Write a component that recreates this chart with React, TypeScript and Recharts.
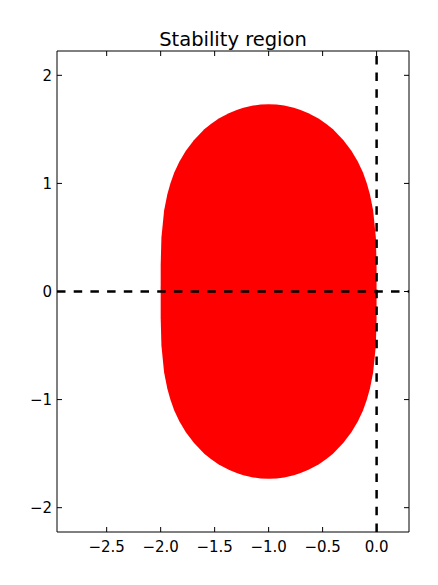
import { ComposedChart, Area, XAxis, YAxis, ReferenceLine } from 'recharts';

// boundary of the red region
const regionX = [
  -2.0, -1.9995, -1.993, -1.968, -1.938, -1.91, -1.874, -1.827, -1.768, -1.693,
  -1.596, -1.535, -1.462, -1.369, -1.296, -1.234, -1.144, -1.073, -1.0, -0.927,
  -0.856, -0.766, -0.704, -0.631, -0.538, -0.465, -0.404, -0.307, -0.232, -0.173,
  -0.126, -0.09, -0.062, -0.032, -0.007, -0.0005, 0.0,
];
const regionUpper = [
  0, 0.25, 0.5, 0.75, 0.9, 1.0, 1.1, 1.2, 1.3, 1.4,
  1.5, 1.55, 1.6, 1.65, 1.68, 1.7, 1.72, 1.729, 1.732, 1.729,
  1.72, 1.7, 1.68, 1.65, 1.6, 1.55, 1.5, 1.4, 1.3, 1.2,
  1.1, 1.0, 0.9, 0.75, 0.5, 0.25, 0,
];
const regionLower = [
  0, -0.25, -0.5, -0.75, -0.9, -1.0, -1.1, -1.2, -1.3, -1.4,
  -1.5, -1.55, -1.6, -1.65, -1.68, -1.7, -1.72, -1.729, -1.732, -1.729,
  -1.72, -1.7, -1.68, -1.65, -1.6, -1.55, -1.5, -1.4, -1.3, -1.2,
  -1.1, -1.0, -0.9, -0.75, -0.5, -0.25, 0,
];

const xTicks = [-2.5, -2.0, -1.5, -1.0, -0.5, 0.0];
const yTicks = [-2, -1, 0, 1, 2];
const xDomain = [-2.96, 0.3];
const yDomain = [-2.225, 2.225];

const data = regionX.map((x, i) => ({ x, band: [regionLower[i], regionUpper[i]] }));

const FONT = '"DejaVu Sans", sans-serif';
const TICK_LEN = 5;
const fmt = (v: number, digits: number) => v.toFixed(digits).replace('-', '\u2212');

const BottomTick = ({ x, y, payload }: any) => (
  <g>
    <line x1={x} y1={y} x2={x} y2={y - TICK_LEN} stroke="#000" />
    <text x={x} y={y + 20} textAnchor="middle" fontSize={15} fontFamily={FONT} fill="#000">
      {fmt(payload.value, 1)}
    </text>
  </g>
);

const LeftTick = ({ x, y, payload }: any) => (
  <g>
    <line x1={x} y1={y} x2={x + TICK_LEN} y2={y} stroke="#000" />
    <text x={x - 5} y={y + 5.5} textAnchor="end" fontSize={15} fontFamily={FONT} fill="#000">
      {fmt(payload.value, 0)}
    </text>
  </g>
);

const TopTick = ({ x, y }: any) => (
  <line x1={x} y1={y} x2={x} y2={y + TICK_LEN} stroke="#000" />
);

const RightTick = ({ x, y }: any) => (
  <line x1={x} y1={y} x2={x - TICK_LEN} y2={y} stroke="#000" />
);

export default function App() {
  return (
    <div style={{ position: 'absolute', left: 0, top: 0, width: 438, height: 585, background: '#fff' }}>
      <svg width={438} height={60} style={{ position: 'absolute', left: 0, top: 0 }}>
        <text x={233} y={45.7} textAnchor="middle" fontSize={19.5} fontFamily={FONT} fill="#000">
          Stability region
        </text>
      </svg>
      <ComposedChart
        width={438}
        height={585}
        data={data}
        margin={{ top: 41, right: 19, bottom: 0, left: 0 }}
      >
        <XAxis
          dataKey="x"
          type="number"
          domain={xDomain}
          ticks={xTicks}
          allowDataOverflow
          height={53}
          tickSize={0}
          tickMargin={0}
          tickLine={false}
          axisLine={{ stroke: '#000' }}
          tick={<BottomTick />}
        />
        <XAxis
          xAxisId="top"
          orientation="top"
          dataKey="x"
          type="number"
          domain={xDomain}
          ticks={xTicks}
          allowDataOverflow
          height={10}
          tickSize={0}
          tickMargin={0}
          tickLine={false}
          axisLine={{ stroke: '#000' }}
          tick={<TopTick />}
        />
        <YAxis
          type="number"
          domain={yDomain}
          ticks={yTicks}
          allowDataOverflow
          width={57}
          tickSize={0}
          tickMargin={0}
          tickLine={false}
          axisLine={{ stroke: '#000' }}
          tick={<LeftTick />}
        />
        <YAxis
          yAxisId="right"
          orientation="right"
          type="number"
          domain={yDomain}
          ticks={yTicks}
          allowDataOverflow
          width={10}
          tickSize={0}
          tickMargin={0}
          tickLine={false}
          axisLine={{ stroke: '#000' }}
          tick={<RightTick />}
        />
        <Area
          dataKey="band"
          type="linear"
          fill="#ff0000"
          fillOpacity={1}
          stroke="none"
          isAnimationActive={false}
        />
        <ReferenceLine y={0} stroke="#000" strokeWidth={2.5} strokeDasharray="8.5 8.2" />
        <ReferenceLine x={0} stroke="#000" strokeWidth={2.5} strokeDasharray="8.5 8.2" />
      </ComposedChart>
    </div>
  );
}
